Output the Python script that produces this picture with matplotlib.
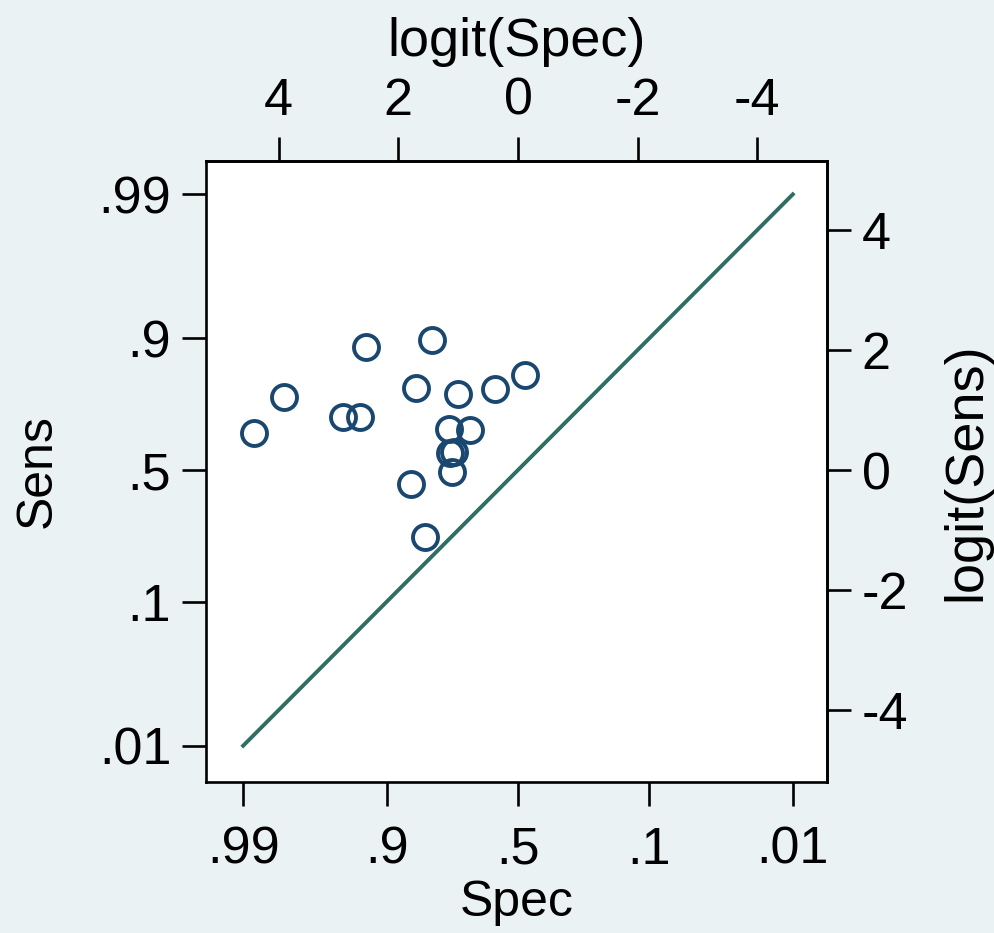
import numpy as np
import matplotlib
matplotlib.use("Agg")
import matplotlib.pyplot as plt

# study-level specificity / sensitivity pairs
spec = [0.988, 0.9805, 0.949, 0.9335, 0.927, 0.809, 0.846, 0.732, 0.596,
        0.4695, 0.760, 0.6895, 0.756, 0.7436, 0.752, 0.856, 0.825]
sens = [0.648, 0.771, 0.7085, 0.7085, 0.886, 0.897, 0.796, 0.781, 0.795,
        0.830, 0.663, 0.662, 0.5715, 0.5755, 0.493, 0.441, 0.2465]

# chance line: sens = 1 - spec
ref_spec = np.array([0.99, 0.01])
ref_sens = 1 - ref_spec

prob_ticks = [0.99, 0.9, 0.5, 0.1, 0.01]
prob_labels = [".99", ".9", ".5", ".1", ".01"]
logit_ticks = [4, 2, 0, -2, -4]
logit_labels = ["4", "2", "0", "-2", "-4"]

NAVY = "#1A476F"
LINE = "#2E6E63"
BG = "#EAF2F3"


def logit(p):
    p = np.asarray(p, dtype=float)
    return np.log(p / (1 - p))


plt.rcParams["font.family"] = ["Liberation Sans", "DejaVu Sans"]
plt.rcParams["axes.unicode_minus"] = False

fig = plt.figure(figsize=(9.94, 9.33), dpi=100, facecolor=BG)
ax = fig.add_axes([0.2072, 0.1618, 0.6248, 0.6656])
ax.set_facecolor("white")

# x runs on -logit(spec) so specificity decreases to the right
ax.plot(-logit(spec), logit(sens), "o", ms=18, mfc="none", mec=NAVY,
        mew=2.8, ls="none", zorder=3)
ax.plot(-logit(ref_spec), logit(ref_sens), color=LINE, lw=2.8, zorder=2)

ax.set_xlim(-5.217, 5.167)
ax.set_ylim(-5.2, 5.15)

ax.set_xticks(-logit(prob_ticks), prob_labels)
ax.set_yticks(logit(prob_ticks), prob_labels)

for s in ax.spines.values():
    s.set_linewidth(1.9)
    s.set_color("black")

fs_tick = 37.5
ax.tick_params(axis="both", direction="out", length=17, width=1.9,
               labelsize=fs_tick, colors="black")
ax.tick_params(axis="x", pad=14.5)
ax.tick_params(axis="y", pad=8)

ax.set_xlabel("Spec", fontsize=36, labelpad=4)
ax.set_ylabel("Sens", fontsize=36, labelpad=27)

top = ax.secondary_xaxis("top", functions=(lambda u: -u, lambda u: -u))
top.set_xticks(logit_ticks, logit_labels)
top.tick_params(direction="out", length=17, width=1.9, labelsize=fs_tick, pad=8.5)
top.set_xlabel("logit(Spec)", fontsize=39, labelpad=15)

right = ax.secondary_yaxis("right")
right.set_yticks(logit_ticks, logit_labels)
right.tick_params(direction="out", length=17, width=1.9, labelsize=fs_tick, pad=8)
right.set_ylabel("logit(Sens)", fontsize=39, labelpad=24)

for sec in (top, right):
    for s in sec.spines.values():
        s.set_linewidth(1.9)

fig.savefig("out.png", dpi=100, facecolor=BG)
